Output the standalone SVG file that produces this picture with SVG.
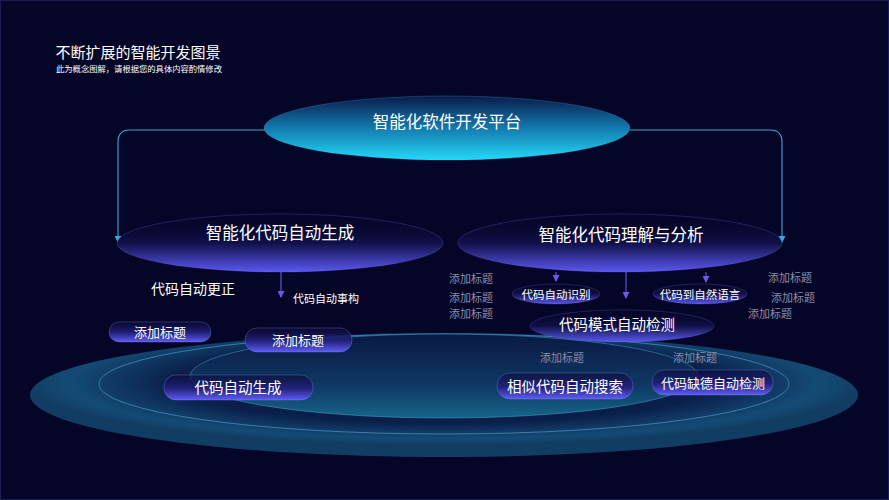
<svg xmlns="http://www.w3.org/2000/svg" width="889" height="500" viewBox="0 0 889 500">
<defs>
<style>
text{font-family:"Noto Sans CJK SC","Microsoft YaHei",sans-serif;fill:#ffffff;text-anchor:middle;dominant-baseline:central}
.gray{fill:#8c8ca4;font-size:11px}
.pill{fill:url(#pillG);stroke:#8a8aff;stroke-opacity:.4;stroke-width:.8}
.mid{fill:url(#midG);stroke:#7a7af5;stroke-opacity:.3;stroke-width:.8}
.conn{fill:none;stroke:#3aa6d6;stroke-width:1.1}
.sub{fill:none;stroke:#6a5ae6;stroke-width:1.1}
</style>
<linearGradient id="topG" x1="0" y1="0" x2="0" y2="1">
<stop offset="0" stop-color="#0a1a4a"/>
<stop offset="0.5" stop-color="#137aae"/>
<stop offset="1" stop-color="#25d8f8"/>
</linearGradient>
<linearGradient id="midG" x1="0" y1="0" x2="0" y2="1">
<stop offset="0" stop-color="#06062c" stop-opacity="0"/>
<stop offset="0.5" stop-color="#101048"/>
<stop offset="1" stop-color="#5a58f0"/>
</linearGradient>
<linearGradient id="pillG" x1="0" y1="0" x2="0" y2="1">
<stop offset="0" stop-color="#0a0a36" stop-opacity="0.6"/>
<stop offset="0.55" stop-color="#22227e"/>
<stop offset="1" stop-color="#5e5cf2"/>
</linearGradient>
<radialGradient id="bigG" cx="50%" cy="40%" r="50%">
<stop offset="0" stop-color="#07133a"/>
<stop offset="0.65" stop-color="#0a1f4a"/>
<stop offset="0.9" stop-color="#134a74"/>
<stop offset="1" stop-color="#1a628a" stop-opacity="0.6"/>
</radialGradient>
<linearGradient id="innerG" x1="0" y1="0" x2="0" y2="1">
<stop offset="0" stop-color="#0a1944"/>
<stop offset="0.6" stop-color="#0e3762"/>
<stop offset="1" stop-color="#18648a"/>
</linearGradient>
<marker id="arC" markerWidth="7" markerHeight="7" refX="6" refY="3.5" orient="auto" markerUnits="userSpaceOnUse">
<path d="M0,0 L7,3.5 L0,7 z" fill="#3aa6d6"/>
</marker>
<marker id="arP" markerWidth="7" markerHeight="7" refX="6" refY="3.5" orient="auto" markerUnits="userSpaceOnUse">
<path d="M0,0 L7,3.5 L0,7 z" fill="#6a5ae6"/>
</marker>
</defs>

<rect x="0" y="0" width="889" height="500" fill="#050528"/>
<rect x="0.5" y="0.5" width="888" height="499" fill="none" stroke="#1c1c52" stroke-width="1"/>

<g id="title">
<text x="138" y="51" style="font-size:15px">不断扩展的智能开发图景</text>
<text x="139" y="68" style="font-size:8.3px">此为概念图解，请根据您的具体内容酌情修改</text>
</g>

<g id="platform">
<ellipse cx="444" cy="395" rx="414" ry="62" fill="url(#bigG)"/>
<ellipse cx="444" cy="384" rx="345" ry="50" fill="none" stroke="#5aaad2" stroke-opacity="0.65" stroke-width="0.9"/>
<ellipse cx="444" cy="376" rx="254" ry="42" fill="url(#innerG)" stroke="#3fa0c8" stroke-opacity="0.65" stroke-width="0.8"/>
</g>

<g id="connectors">
<path class="conn" d="M265,130 H130 Q118,130 118,142 V242" marker-end="url(#arC)"/>
<path class="conn" d="M630,130 H770 Q782,130 782,142 V242" marker-end="url(#arC)"/>
<path class="sub" d="M281,272 V297" marker-end="url(#arP)"/>
<path class="sub" d="M556,272 V281" marker-end="url(#arP)"/>
<path class="sub" d="M626,272 V298" marker-end="url(#arP)"/>
<path class="sub" d="M706,272 V282" marker-end="url(#arP)"/>
</g>

<g id="node-platform">
<ellipse cx="447" cy="128" rx="183" ry="32" fill="url(#topG)" stroke="#3fc8ee" stroke-opacity="0.3" stroke-width="0.8"/>
<text x="447" y="121" style="font-size:16.5px">智能化软件开发平台</text>
</g>

<g id="node-gen">
<ellipse class="mid" cx="280" cy="243" rx="163" ry="29"/>
<text x="280" y="232" style="font-size:16.5px">智能化代码自动生成</text>
</g>

<g id="node-analysis">
<ellipse class="mid" cx="620" cy="243" rx="162" ry="29"/>
<text x="621" y="234" style="font-size:16.5px">智能化代码理解与分析</text>
</g>

<g id="node-fix">
<text x="193" y="288" style="font-size:14px">代码自动更正</text>
</g>
<g id="node-refactor">
<text x="326" y="298" style="font-size:11px">代码自动事构</text>
</g>

<g id="node-add1">
<rect class="pill" x="109" y="322" width="102" height="20" rx="10"/>
<text x="160" y="331" style="font-size:13px">添加标题</text>
</g>
<g id="node-add2">
<rect class="pill" x="245" y="328" width="107" height="24" rx="12"/>
<text x="298" y="339" style="font-size:13px">添加标题</text>
</g>
<g id="node-autogen">
<rect class="pill" x="164" y="375" width="149" height="25" rx="12"/>
<text x="238" y="386" style="font-size:14.5px">代码自动生成</text>
</g>

<g id="node-recog">
<ellipse class="mid" cx="556" cy="294" rx="44" ry="10"/>
<text x="556" y="294" style="font-size:11.5px">代码自动识别</text>
</g>
<g id="node-nl">
<ellipse class="mid" cx="700" cy="294" rx="47" ry="10"/>
<text x="700" y="294" style="font-size:11.5px">代码到自然语言</text>
</g>
<g id="node-pattern">
<ellipse class="mid" cx="622" cy="326" rx="92" ry="16"/>
<text x="617" y="323" style="font-size:14.5px">代码模式自动检测</text>
</g>

<g id="node-search">
<rect class="pill" x="497" y="373" width="136" height="26" rx="13"/>
<text x="565" y="385" style="font-size:14.5px">相似代码自动搜索</text>
</g>
<g id="node-defect">
<rect class="pill" x="652" y="370" width="121" height="25" rx="12"/>
<text x="713" y="382" style="font-size:13px">代码缺德自动检测</text>
</g>

<g id="labels">
<text class="gray" x="471" y="278">添加标题</text>
<text class="gray" x="471" y="297">添加标题</text>
<text class="gray" x="471" y="313">添加标题</text>
<text class="gray" x="790" y="277">添加标题</text>
<text class="gray" x="793" y="297">添加标题</text>
<text class="gray" x="770" y="313">添加标题</text>
<text class="gray" x="562" y="357">添加标题</text>
<text class="gray" x="695" y="357">添加标题</text>
</g>
</svg>
